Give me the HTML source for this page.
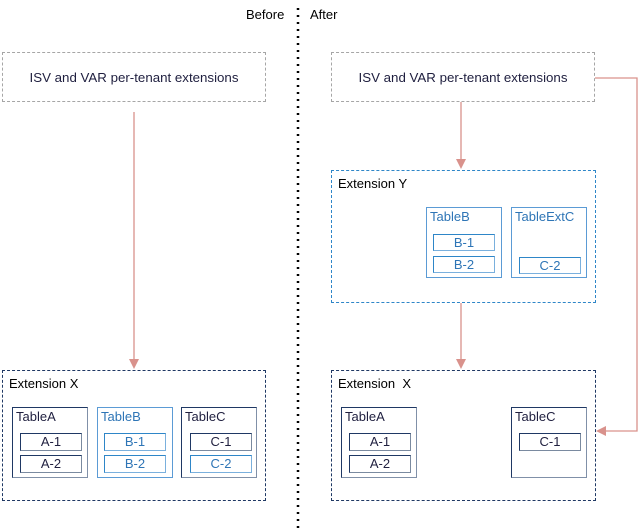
<!DOCTYPE html>
<html><head><style>
body{margin:0;width:639px;height:528px;background:#fff;position:relative;font-family:"Liberation Sans",sans-serif;overflow:hidden}
.a{position:absolute;box-sizing:border-box}
.top{border:1px dashed #a6a6a6;font-size:13.3px;color:#1f1f3f;display:flex;align-items:center;justify-content:center}
.ext{border:1.5px dashed #1f3864}
.exty{border:1.5px dashed #2e86c8}
.lbl{font-size:13px;color:#000;position:absolute;left:6px;top:5px}
.t{border:1.5px solid #1f3864;border-right-color:#8090a8;border-bottom-color:#8090a8}
.tb{border:1.5px solid #5b9bd5}
.tl{position:absolute;left:3px;top:1px;font-size:13px}
.f{border:1.5px solid #1f3864;border-right-color:#7a8aa0;border-bottom-color:#7a8aa0;font-size:13px;text-align:center;line-height:15px;color:#1f1f3f}
.fb{border:1.5px solid #2e86c8;border-right-color:#7ab0dd;border-bottom-color:#7ab0dd;font-size:13px;text-align:center;line-height:15px;color:#2e75b6}
</style></head><body>
<svg class="a" style="left:0;top:0" width="639" height="528">
<line x1="298" y1="8" x2="298" y2="528" stroke="#000" stroke-width="2.5" stroke-dasharray="2,5"/>
<g stroke="#d9928c" stroke-width="1.3" fill="none">
<line x1="134" y1="112" x2="134" y2="360"/>
<line x1="461" y1="102" x2="461" y2="160"/>
<line x1="461" y1="303" x2="461" y2="360"/>
<polyline points="595,78 637,78 637,431 605,431"/>
</g>
<g fill="#d9928c">
<polygon points="129,359 139,359 134,369"/>
<polygon points="456,159 466,159 461,169"/>
<polygon points="456,359 466,359 461,369"/>
<polygon points="606,426 606,436 596,431"/>
</g>
</svg>
<div class="a" style="left:246px;top:7px;font-size:13px">Before</div>
<div class="a" style="left:310px;top:7px;font-size:13px">After</div>
<div class="a top" style="left:2px;top:52px;width:264px;height:50px">ISV and VAR per-tenant extensions</div>
<div class="a top" style="left:331px;top:52px;width:264px;height:50px">ISV and VAR per-tenant extensions</div>

<div class="a ext" style="left:2px;top:370px;width:264px;height:131px"><span class="lbl">Extension X</span></div>
<div class="a t" style="left:12px;top:407px;width:76px;height:71px"><span class="tl" style="color:#1f1f3f">TableA</span></div>
<div class="a f" style="left:20px;top:433px;width:62px;height:18px">A-1</div>
<div class="a f" style="left:20px;top:455px;width:62px;height:18px">A-2</div>
<div class="a tb" style="left:97px;top:407px;width:76px;height:71px"><span class="tl" style="color:#2e75b6">TableB</span></div>
<div class="a fb" style="left:104px;top:433px;width:62px;height:18px">B-1</div>
<div class="a fb" style="left:104px;top:455px;width:62px;height:18px">B-2</div>
<div class="a t" style="left:181px;top:407px;width:76px;height:71px"><span class="tl" style="color:#1f1f3f">TableC</span></div>
<div class="a f" style="left:190px;top:433px;width:62px;height:18px">C-1</div>
<div class="a fb" style="left:190px;top:455px;width:62px;height:18px">C-2</div>

<div class="a exty" style="left:331px;top:170px;width:265px;height:133px"><span class="lbl">Extension Y</span></div>
<div class="a tb" style="left:426px;top:207px;width:76px;height:71px"><span class="tl" style="color:#2e75b6">TableB</span></div>
<div class="a fb" style="left:433px;top:234px;width:62px;height:17px">B-1</div>
<div class="a fb" style="left:433px;top:256px;width:62px;height:17px">B-2</div>
<div class="a tb" style="left:511px;top:207px;width:76px;height:71px"><span class="tl" style="color:#2e75b6">TableExtC</span></div>
<div class="a fb" style="left:519px;top:257px;width:62px;height:17px">C-2</div>

<div class="a ext" style="left:331px;top:370px;width:265px;height:131px"><span class="lbl">Extension&nbsp; X</span></div>
<div class="a t" style="left:341px;top:407px;width:76px;height:71px"><span class="tl" style="color:#1f1f3f">TableA</span></div>
<div class="a f" style="left:349px;top:433px;width:62px;height:18px">A-1</div>
<div class="a f" style="left:349px;top:455px;width:62px;height:18px">A-2</div>
<div class="a t" style="left:511px;top:407px;width:76px;height:71px"><span class="tl" style="color:#1f1f3f">TableC</span></div>
<div class="a f" style="left:519px;top:433px;width:62px;height:18px">C-1</div>
</body></html>
